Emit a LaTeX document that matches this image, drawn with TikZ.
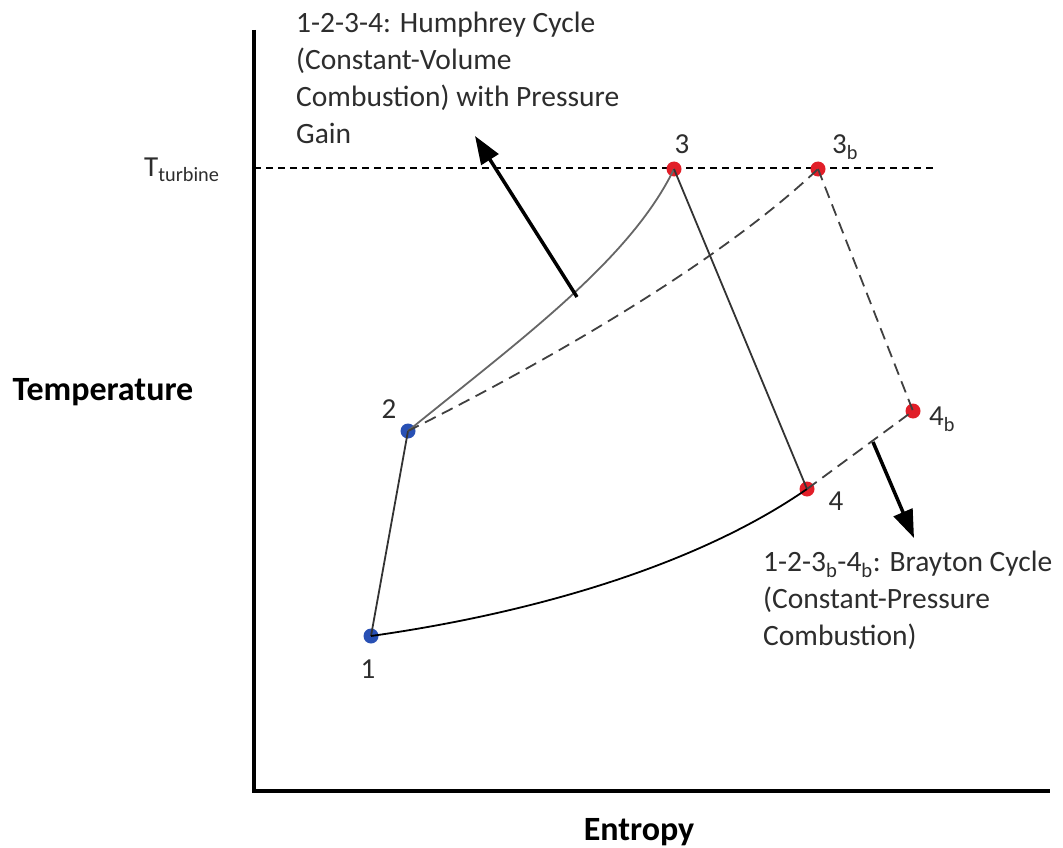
\documentclass[tikz,border=0pt]{standalone}
\usepackage{fontspec}
\setmainfont{Carlito}
\usetikzlibrary{arrows.meta}
\definecolor{ptblue}{RGB}{40,80,180}
\definecolor{ptred}{RGB}{225,30,40}
\definecolor{txt}{RGB}{45,45,45}
\tikzset{
  axis/.style={line width=4.5pt, black},
  cyc/.style={line width=1.8pt, black!80},
  cycd/.style={line width=1.8pt, black!75, dash pattern=on 12pt off 7pt},
  refl/.style={line width=1.3pt, black, dash pattern=on 7pt off 5pt},
  bdot/.style={circle, fill=ptblue, inner sep=0pt, minimum size=15pt},
  rdot/.style={circle, fill=ptred, inner sep=0pt, minimum size=15pt},
  lbl/.style={font=\fontsize{29}{34}\selectfont, text=txt, inner sep=0pt},
  note/.style={font=\fontsize{29.5}{36.8}\selectfont, text=txt, align=left, inner sep=0pt, anchor=base west},
  bigarrow/.style={line width=3.5pt, -{Triangle[length=28pt,width=20pt]}},
  axlabel/.style={font=\fontsize{34}{40}\selectfont\bfseries, inner sep=0pt}
}
\begin{document}
\begin{tikzpicture}[x=1pt,y=-1pt]
\useasboundingbox (0,0) rectangle (1063,848);
% axes
\coordinate (otop) at (254,30);
\coordinate (orig) at (254,791);
\coordinate (xend) at (1050,791);
\draw[axis] (otop) -- (orig) -- (xend);
% turbine temperature line
\coordinate (tl) at (254,168);
\coordinate (tr) at (935,168);
\draw[refl] (tl) -- (tr);
% points
\node[bdot] (p1) at (371,636) {};
\node[bdot] (p2) at (408,431) {};
\node[rdot] (p3) at (674,169) {};
\node[rdot] (p3b) at (818,169) {};
\node[rdot] (p4) at (807,489) {};
\node[rdot] (p4b) at (913,411) {};
% cycle lines
\draw[cyc] (p1.center) -- (p2.center);
\draw[cyc, black!60] (p2.center) .. controls (520,340) and (630,260) .. (p3.center);
\draw[cycd] (p2.center) .. controls (550,360) and (720,262) .. (p3b.center);
\draw[cyc] (p3.center) -- (p4.center);
\draw[cycd] (p3b.center) -- (p4b.center);
\draw[cyc, black] (p1.center) .. controls (520,615) and (690,570) .. (p4.center);
\draw[cycd] (p4.center) -- (p4b.center);
% labels of points
\node[lbl] (l1) at (368,669) {1};
\node[lbl] (l2) at (389,409) {2};
\node[lbl] (l3) at (682,144) {3};
\node[lbl] (l3b) at (845,147) {3\textsubscript{b}};
\node[lbl] (l4) at (836,501) {4};
\node[lbl] (l4b) at (942,419) {4\textsubscript{b}};
% arrows
\coordinate (a1s) at (577,297);
\coordinate (a1e) at (475,136);
\draw[bigarrow] (a1s) -- (a1e);
\coordinate (a2s) at (873,442);
\coordinate (a2e) at (914,538);
\draw[bigarrow] (a2s) -- (a2e);
% notes (anchor at the baseline of the last line)
\node[note] (n1) at (296,143) {1-2-3-4: Humphrey Cycle\\(Constant-Volume\\Combustion) with Pressure\\Gain};
\node[note] (n2) at (763,645) {1-2-3\textsubscript{b}-4\textsubscript{b}: Brayton Cycle\\(Constant-Pressure\\Combustion)};
% axis labels
\node[lbl, anchor=base west] (tt) at (144,176) {T\textsubscript{turbine}};
\node[axlabel] (ylab) at (103,392) {Temperature};
\node[axlabel] (xlab) at (639,832) {Entropy};
\end{tikzpicture}
\end{document}
